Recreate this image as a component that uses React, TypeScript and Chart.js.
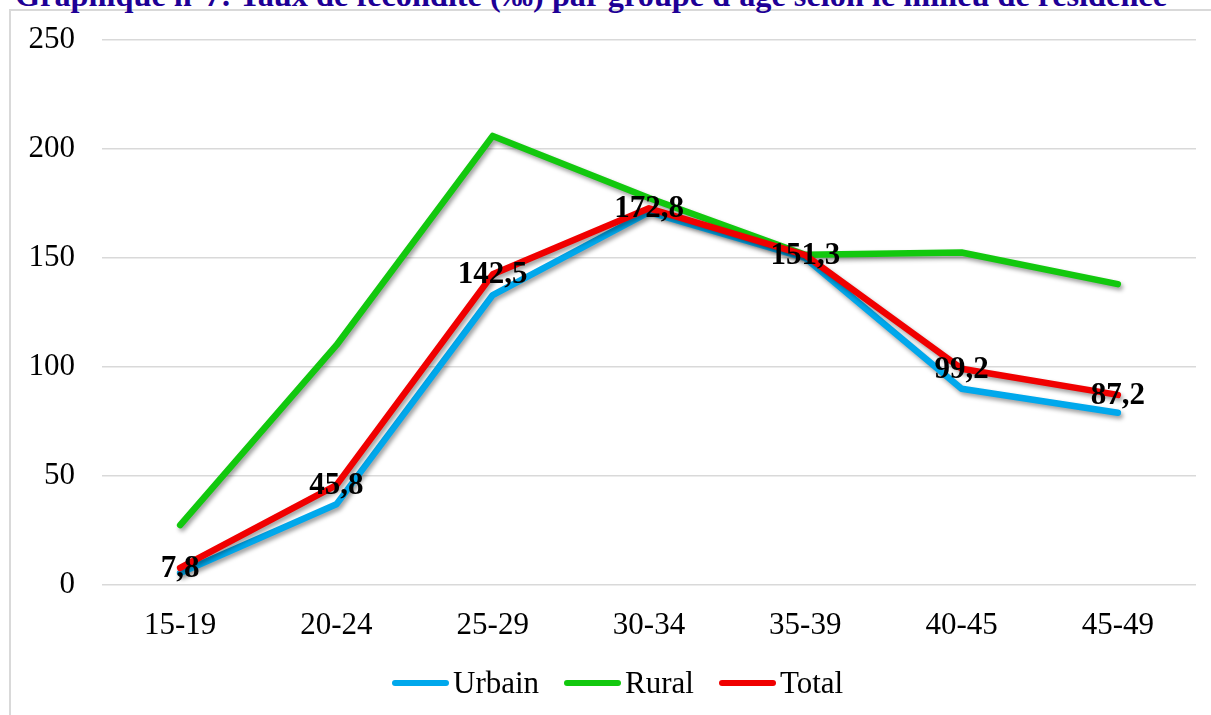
import React, { useEffect, useRef } from 'react';
import { Chart, registerables } from 'chart.js';

Chart.register(...registerables);

const titleText = "Graphique n°7: Taux de fécondité (‰) par groupe d'âge selon le milieu de résidence";
const categories = ['15-19', '20-24', '25-29', '30-34', '35-39', '40-45', '45-49'];
const urbain = [5.5, 37, 133, 171, 150, 90, 79];
const rural = [27.5, 110, 206, 177.5, 151.5, 152.5, 138];
const total = [7.8, 45.8, 142.5, 172.8, 151.3, 99.2, 87.2];
const seriesNames = ['Urbain', 'Rural', 'Total'];
const seriesColors = ['#00A8EC', '#12C80E', '#F00000'];
const yTicks = [0, 50, 100, 150, 200, 250];

const SERIF = '"Liberation Serif", "Times New Roman", serif';

export default function App() {
  const ref = useRef<HTMLCanvasElement>(null);

  useEffect(() => {
    if (!ref.current) return;
    const shadowPlugin = {
      id: 'lineShadow',
      beforeDatasetDraw(chart: any) {
        const c = chart.ctx;
        c.save();
        c.shadowColor = 'rgba(0,0,0,0.38)';
        c.shadowBlur = 4;
        c.shadowOffsetX = 2;
        c.shadowOffsetY = 3;
      },
      afterDatasetDraw(chart: any) {
        chart.ctx.restore();
      },
    };
    const labelPlugin = {
      id: 'totalLabels',
      afterDatasetsDraw(chart: any) {
        const c = chart.ctx;
        const meta = chart.getDatasetMeta(2);
        c.save();
        c.font = `bold 31px ${SERIF}`;
        c.fillStyle = '#000';
        c.textAlign = 'center';
        c.textBaseline = 'middle';
        meta.data.forEach((pt: any, i: number) => {
          const v = total[i];
          c.fillText(v.toFixed(1).replace('.', ','), pt.x, pt.y + 1);
        });
        c.restore();
      },
    };
    const datasets = [urbain, rural, total].map((d, i) => ({
      label: seriesNames[i],
      data: d,
      borderColor: seriesColors[i],
      backgroundColor: seriesColors[i],
      borderWidth: 6.5,
      borderCapStyle: 'round' as const,
      borderJoinStyle: 'round' as const,
      pointRadius: 0,
      tension: 0,
      order: 3 - i,
    }));
    const chart = new Chart(ref.current, {
      type: 'line',
      data: { labels: categories, datasets },
      options: {
        animation: false,
        responsive: false,
        devicePixelRatio: 1,
        layout: { padding: { top: 40, right: 15, left: 0, bottom: 0 } },
        plugins: {
          legend: { display: false },
          tooltip: { enabled: false },
          title: { display: false },
        },
        scales: {
          x: {
            type: 'category',
            offset: true,
            grid: { display: false, drawTicks: false },
            border: { display: false },
            ticks: {
              color: '#000',
              font: { family: SERIF, size: 31 },
              padding: 22,
              maxRotation: 0,
            },
            afterFit(scale: any) {
              scale.height = 130;
              scale.paddingLeft = 0;
              scale.paddingRight = 0;
            },
          },
          y: {
            min: 0,
            max: 250,
            afterBuildTicks(scale: any) {
              scale.ticks = yTicks.map((v) => ({ value: v }));
            },
            grid: { color: '#D9D9D9', lineWidth: 1.5, drawTicks: false },
            border: { display: false },
            ticks: {
              color: '#000',
              font: { family: SERIF, size: 31 },
              padding: 27,
            },
            afterFit(scale: any) {
              scale.width = 102;
              scale.paddingTop = 0;
              scale.paddingBottom = 0;
            },
          },
        },
      },
      plugins: [shadowPlugin, labelPlugin],
    });
    return () => chart.destroy();
  }, []);

  return (
    <div
      style={{
        position: 'fixed',
        left: 0,
        top: 0,
        width: 1211,
        height: 715,
        overflow: 'hidden',
        background: '#fff',
      }}
    >
      <div
        style={{
          position: 'absolute',
          left: 9,
          top: 9,
          width: 1400,
          height: 900,
          border: '2px solid #D9D9D9',
          boxSizing: 'border-box',
        }}
      />
      <div
        style={{
          position: 'absolute',
          left: 15,
          top: -21,
          whiteSpace: 'nowrap',
          fontFamily: SERIF,
          fontWeight: 'bold',
          fontSize: 32.3,
          lineHeight: '32px',
          color: '#1E0096',
        }}
      >
        {titleText}
      </div>
      <canvas
        ref={ref}
        width={1211}
        height={715}
        style={{ position: 'absolute', left: 0, top: 0, width: 1211, height: 715 }}
      />
      <div
        style={{
          position: 'absolute',
          left: 392,
          top: 665,
          height: 36,
          display: 'flex',
          alignItems: 'center',
          fontFamily: SERIF,
          fontSize: 31,
          color: '#000',
          whiteSpace: 'nowrap',
        }}
      >
        {seriesNames.map((n, i) => (
          <div key={n} style={{ display: 'flex', alignItems: 'center', marginRight: i < 2 ? 25 : 0 }}>
            <span
              style={{
                display: 'inline-block',
                width: 57,
                height: 6,
                borderRadius: 3,
                background: seriesColors[i],
                marginRight: 4,
              }}
            />
            <span>{n}</span>
          </div>
        ))}
      </div>
    </div>
  );
}
